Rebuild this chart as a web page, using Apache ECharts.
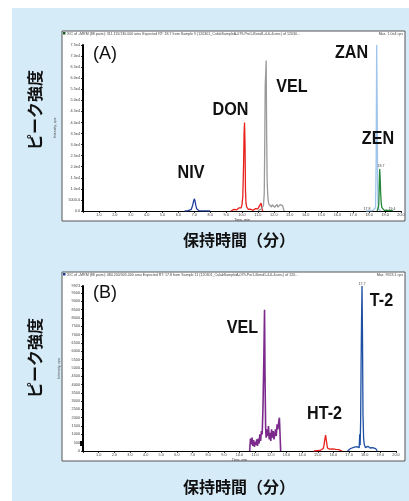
<!DOCTYPE html>
<html><head><meta charset="utf-8">
<script src="https://cdn.jsdelivr.net/npm/echarts@6/dist/echarts.min.js"></script>
<style>html,body{margin:0;padding:0;background:#fff}#c{width:409px;height:501px}</style>
</head><body><div id="c"></div>
<script>
// ---------- Tick labels ----------
var xTickLabels = ['', '1.0','2.0','3.0','4.0','5.0','6.0','7.0','8.0','9.0','10.0','11.0','12.0','13.0','14.0','15.0','16.0','17.0','18.0','19.0','20.0'];
var yTickLabelsA = ['0.0','5000.0','1.0e4','1.5e4','2.0e4','2.5e4','3.0e4','3.5e4','4.0e4','4.5e4','5.0e4','5.5e4','6.0e4','6.5e4','7.0e4','7.5e4'];
var yTickLabelsB = ['0','500','1000','1500','2000','2500','3000','3500','4000','4500','5000','5500','6000','6500','7000','7500','8000','8500','9000','9500'];
var yMaxA = 75000, yMaxB = 9923;

// ---------- Panel A (time in min, intensity in cps) ----------
var nivTime = [6.4, 6.6, 6.7, 6.8, 6.85, 6.9, 6.95, 7.0, 7.05, 7.1, 7.15, 7.2, 7.3, 7.45, 7.7, 8.0];
var nivInt  = [0, 150, 300, 600, 1300, 2600, 4300, 5500, 4400, 2400, 1000, 400, 150, 60, 30, 0];

var donTime = [9.3, 9.4, 9.5, 9.55, 9.6, 9.65, 9.7, 9.75, 9.8, 9.85, 9.9, 9.95, 10.0, 10.05, 10.1, 10.13, 10.16, 10.19, 10.22, 10.25, 10.3, 10.35, 10.4, 10.45, 10.5, 10.55, 10.6, 10.65, 10.7, 10.75, 10.8, 10.85, 10.9, 10.95, 11.0, 11.05, 11.1, 11.15, 11.2, 11.25, 11.3];
var donInt  = [0, 300, 700, 400, 1000, 500, 1200, 700, 1400, 900, 1900, 1400, 2900, 6500, 21000, 35000, 40000, 30000, 9000, 3500, 1800, 1100, 700, 1000, 500, 800, 400, 900, 300, 700, 600, 1100, 800, 1500, 1000, 1800, 2300, 3000, 3600, 1200, 0];

var velATime = [11.0, 11.1, 11.2, 11.25, 11.3, 11.35, 11.4, 11.43, 11.46, 11.49, 11.52, 11.55, 11.58, 11.62, 11.66, 11.7, 11.75, 11.8, 11.85, 11.9, 11.95, 12.0, 12.05, 12.1, 12.15, 12.2, 12.25, 12.3, 12.35, 12.4, 12.45, 12.5, 12.55, 12.6, 12.65];
var velAInt  = [0, 400, 900, 700, 1500, 2500, 8000, 30000, 57000, 62000, 68000, 35000, 14000, 7000, 4000, 3000, 2200, 3200, 1800, 2800, 2000, 3100, 1700, 2600, 2200, 3000, 1800, 2700, 1900, 2900, 2100, 2600, 2400, 1500, 0];

var zanTime = [17.8, 17.9, 18.0, 18.1, 18.2, 18.3, 18.4, 18.44, 18.47, 18.5, 18.53, 18.56, 18.6, 18.65, 18.75];
var zanInt  = [0, 200, 100, 300, 150, 400, 1500, 25000, 75000, 50000, 12000, 3000, 800, 300, 0];

var zenTime = [18.5, 18.56, 18.6, 18.63, 18.66, 18.69, 18.72, 18.76, 18.8, 18.84, 18.9, 18.95, 19.0, 19.05, 19.1, 19.15, 19.2, 19.25, 19.3, 19.35, 19.4, 19.5];
var zenInt  = [0, 400, 2500, 11000, 19000, 15000, 8000, 3500, 1500, 800, 600, 300, 500, 250, 400, 200, 350, 150, 300, 200, 250, 0];

// ---------- Panel B ----------
var velBTime = [10.65, 10.7, 10.75, 10.8, 10.85, 10.9, 10.95, 11.0, 11.05, 11.1, 11.15, 11.2, 11.25, 11.3, 11.35, 11.4, 11.45, 11.5, 11.55, 11.6, 11.63, 11.67, 11.7, 11.75, 11.8, 11.85, 11.9, 11.95, 12.0, 12.05, 12.1, 12.15, 12.2, 12.25, 12.3, 12.35, 12.4, 12.45, 12.5, 12.55, 12.6, 12.63];
var velBInt  = [0, 750, 400, 800, 300, 650, 250, 550, 350, 700, 300, 750, 450, 1000, 600, 1200, 1000, 2600, 5300, 8500, 4500, 1400, 800, 1300, 900, 1500, 700, 1100, 600, 1300, 800, 1200, 700, 1000, 1300, 900, 1600, 1300, 1700, 2000, 1900, 0];

var ht2Time = [14.75, 14.85, 14.95, 15.05, 15.15, 15.25, 15.35, 15.4, 15.45, 15.5, 15.53, 15.57, 15.62, 15.68, 15.75, 15.85, 15.95, 16.05, 16.15, 16.25, 16.35, 16.45, 16.55];
var ht2Int  = [0, 60, 20, 90, 30, 80, 150, 350, 700, 950, 1020, 500, 180, 60, 110, 30, 130, 40, 100, 20, 80, 30, 0];

var t2Time = [16.9, 17.0, 17.1, 17.2, 17.3, 17.4, 17.5, 17.55, 17.6, 17.65, 17.68, 17.71, 17.74, 17.77, 17.8, 17.83, 17.86, 17.89, 17.93, 17.97, 18.0, 18.05, 18.1, 18.15, 18.2, 18.25, 18.3, 18.35, 18.4, 18.45, 18.5, 18.6, 18.7, 18.8];
var t2Int  = [0, 80, 150, 60, 220, 100, 260, 150, 300, 200, 1000, 350, 1800, 5300, 8000, 9923, 6800, 2200, 800, 400, 300, 200, 320, 150, 280, 200, 300, 180, 260, 150, 200, 100, 150, 0];

function pairs(t, v) { return t.map(function (x, i) { return [x, v[i]]; }); }

var chart = echarts.init(document.getElementById('c'), null, { renderer: 'canvas' });

var small = '"Liberation Sans", Arial, sans-serif';
function xAxisCfg(gi) {
  return {
    type: 'value', gridIndex: gi, min: 0, max: 20, interval: 1,
    name: 'Time, min', nameLocation: 'middle', nameGap: 7,
    nameTextStyle: { fontSize: 3.6, color: '#444', fontFamily: small },
    axisLine: { show: true, onZero: false, lineStyle: { color: '#000', width: 1 } },
    axisTick: { show: true, length: 2, lineStyle: { color: '#000', width: 0.8 } },
    axisLabel: { fontSize: 3.8, color: '#444', margin: 2, fontFamily: small,
      formatter: function (v) { return xTickLabels[Math.round(v)] || ''; } },
    splitLine: { show: false }
  };
}
function yAxisCfg(gi, max, interval, labels, topLabel) {
  return {
    type: 'value', gridIndex: gi, min: 0, max: max, interval: interval,
    name: 'Intensity, cps', nameLocation: 'middle', nameGap: 18, nameRotate: 90,
    nameTextStyle: { fontSize: 3.6, color: '#444', fontFamily: small },
    axisLine: { show: true, onZero: false, lineStyle: { color: '#000', width: 2 } },
    axisTick: { show: true, length: 2, lineStyle: { color: '#000', width: 0.8 } },
    axisLabel: { fontSize: 3.8, color: '#444', margin: 3, fontFamily: small,
      formatter: function (v) {
        var i = Math.round(v / interval);
        if (Math.abs(v - i * interval) > 1e-6) return topLabel;
        return labels[i] !== undefined ? labels[i] : '';
      } },
    splitLine: { show: false }
  };
}
function line(data, color, xi, z, w) {
  return { type: 'line', data: data, xAxisIndex: xi, yAxisIndex: xi, showSymbol: false, symbol: 'none',
    lineStyle: { color: color, width: w || 1.3 }, itemStyle: { color: color }, z: z || 2, silent: true, animation: false };
}

var bigFont = 'bold 19px "Liberation Sans", Arial, sans-serif';
var jpFont = 'bold 16px "Noto Sans CJK JP", sans-serif';
function big(text, x, y) {
  return { type: 'text', x: x, y: y, scaleX: 0.85, z: 50,
    style: { text: text, x: 0, y: 0, font: bigFont, fill: '#111', align: 'center', verticalAlign: 'middle' } };
}
function tiny(text, x, y, align) {
  return { type: 'text', x: x, y: y, z: 50,
    style: { text: text, x: 0, y: 0, font: '3.6px ' + small, fill: '#444', align: align || 'left', verticalAlign: 'middle' } };
}

var option = {
  animation: false,
  backgroundColor: '#ffffff',
  grid: [
    { left: 83, right: 8, top: 45, bottom: 290, outerBoundsMode: 'none', containLabel: false },
    { left: 83, right: 13, top: 286, bottom: 50, outerBoundsMode: 'none', containLabel: false }
  ],
  xAxis: [xAxisCfg(0), xAxisCfg(1)],
  yAxis: [yAxisCfg(0, yMaxA, 5000, yTickLabelsA, '7.5e4'), yAxisCfg(1, yMaxB, 500, yTickLabelsB, '9923')],
  series: [
    line(pairs(nivTime, nivInt), '#1f3f9f', 0),
    line(pairs(donTime, donInt), '#e8211d', 0),
    line(pairs(velATime, velAInt), '#9a9a9a', 0, 3),
    line(pairs(zanTime, zanInt), '#9fc5ec', 0),
    line(pairs(zenTime, zenInt), '#23883a', 0, 3),
    line(pairs(velBTime, velBInt), '#7b2a8c', 1, 2, 1.6),
    line(pairs(ht2Time, ht2Int), '#e8211d', 1),
    line(pairs(t2Time, t2Int), '#1d4fa3', 1)
  ],
  graphic: [
    { type: 'rect', z: -100, shape: { x: 12, y: 8, width: 397, height: 493 }, style: { fill: '#d6ebf8' } },
    { type: 'rect', z: -99, shape: { x: 62, y: 31, width: 343, height: 190 }, style: { fill: '#fff', stroke: '#555', lineWidth: 1 } },
    { type: 'rect', z: -99, shape: { x: 62, y: 272, width: 343, height: 189 }, style: { fill: '#fff', stroke: '#555', lineWidth: 1 } },
    { type: 'rect', z: 40, shape: { x: 63, y: 32, width: 2.5, height: 2.5 }, style: { fill: '#1a5a2a' } },
    { type: 'rect', z: 40, shape: { x: 63, y: 273, width: 2.5, height: 2.5 }, style: { fill: '#1d3f8f' } },
    { type: 'rect', z: 40, shape: { x: 80, y: 441, width: 2, height: 5 }, style: { fill: '#000' } },
    tiny('XIC of +MRM (88 pairs): 311.115/130.000 amu Expected RT: 18.7 from Sample 9 (120301_CulabSampleA-079-Pre1-Bond1-4-6-4conc) of 12030...', 67, 33.5),
    tiny('Max. 1.0e4 cps', 403, 33.5, 'right'),
    tiny('XIC of +MRM (88 pairs): 484.200/305.000 amu Expected RT: 17.8 from Sample 11 (120301_CulabSampleA-079-Pre1-Bond1-4-6-4conc) of 120...', 67, 274.5),
    tiny('Max. 9923.1 cps', 403, 274.5, 'right'),
    tiny('17.8', 367, 209, 'center'),
    tiny('18.7', 381, 166, 'center'),
    tiny('19.4', 392, 209, 'center'),
    tiny('17.7', 362, 283.5, 'center'),
    { type: 'text', x: 105, y: 54, z: 50, style: { text: '(A)', x: 0, y: 0, font: '18px "Liberation Sans", Arial, sans-serif', fill: '#111', align: 'center', verticalAlign: 'middle' } },
    { type: 'text', x: 105, y: 293, z: 50, style: { text: '(B)', x: 0, y: 0, font: '18px "Liberation Sans", Arial, sans-serif', fill: '#111', align: 'center', verticalAlign: 'middle' } },
    big('NIV', 191, 173),
    big('DON', 230.5, 110),
    big('VEL', 292, 86.5),
    big('ZAN', 351.5, 53),
    big('ZEN', 378, 138.5),
    big('VEL', 242.5, 327.5),
    big('HT-2', 324.5, 414),
    big('T-2', 381.5, 300.5),
    { type: 'text', x: 35, y: 110, rotation: Math.PI / 2, z: 50, style: { text: 'ピーク強度', x: 0, y: 0, font: jpFont, fill: '#111', align: 'center', verticalAlign: 'middle' } },
    { type: 'text', x: 35, y: 358, rotation: Math.PI / 2, z: 50, style: { text: 'ピーク強度', x: 0, y: 0, font: jpFont, fill: '#111', align: 'center', verticalAlign: 'middle' } },
    { type: 'text', x: 239, y: 240, z: 50, style: { text: '保持時間（分）', x: 0, y: 0, font: jpFont, fill: '#111', align: 'center', verticalAlign: 'middle' } },
    { type: 'text', x: 239, y: 487, z: 50, style: { text: '保持時間（分）', x: 0, y: 0, font: jpFont, fill: '#111', align: 'center', verticalAlign: 'middle' } }
  ]
};
chart.setOption(option);
</script></body></html>
